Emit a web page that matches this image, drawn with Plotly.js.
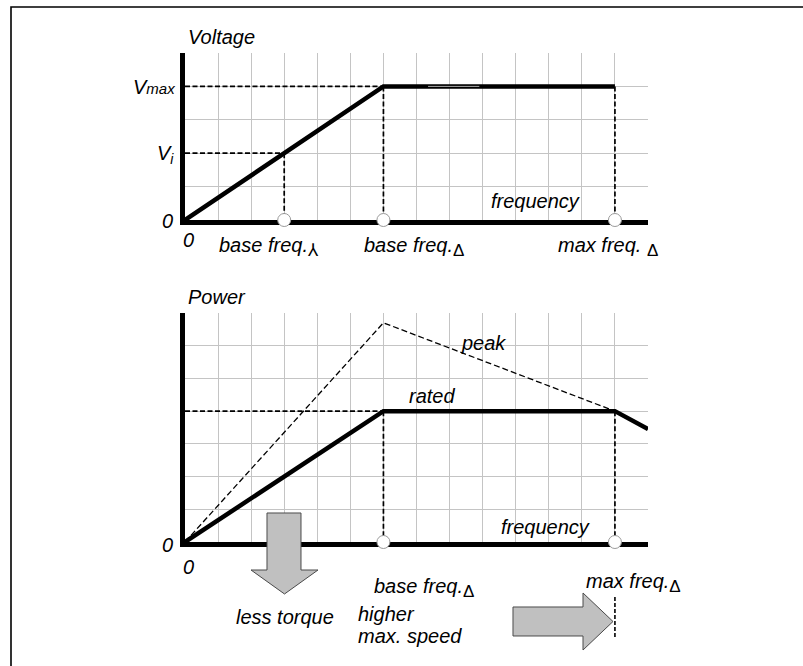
<!DOCTYPE html>
<html><head><meta charset="utf-8">
<script src="https://cdn.plot.ly/plotly-3.0.1.min.js"></script>
<style>html,body{margin:0;padding:0;background:#fff;}#chart{width:803px;height:666px;}</style>
</head><body><div id="chart"></div>
<script>
// ---------- data ----------
const xMax = 14;                 // frequency grid extent (grid units)
const vMaxTop = 5;               // voltage grid extent
const pMaxTop = 7;               // power grid extent
const baseFreqStar = 3;          // base freq (star)
const baseFreqDelta = 6;         // base freq (delta)
const maxFreqDelta = 13;         // max freq (delta)
const vi = 2;                    // V_i level
const vmax = 4;                  // V_max level
const voltX = [0, 6, 13];
const voltY = [0, 4, 4];
const voltHighlightX = [7.35, 8.9];
const ratedX = [0, 6, 13, 14];
const ratedY = [0, 4, 4, 3.45];
const peakX = [0, 6, 13];
const peakY = [0, 6.7, 4];
const ratedLevel = 4;
const topMarks = [baseFreqStar, baseFreqDelta, maxFreqDelta];
const botMarks = [baseFreqDelta, maxFreqDelta];

// ---------- helpers ----------
const W = 803, H = 666;
const px = x => x / W;
const py = y => 1 - y / H;

function segs(list){ // list of [x0,y0,x1,y1]
  const x=[],y=[];
  list.forEach(s=>{x.push(s[0],s[2],null);y.push(s[1],s[3],null);});
  return {x,y};
}
const guideTop = segs([
  [0, vmax, baseFreqDelta, vmax],
  [0, vi, baseFreqStar, vi],
  [baseFreqStar, vi, baseFreqStar, 0],
  [baseFreqDelta, vmax, baseFreqDelta, 0],
  [maxFreqDelta, vmax, maxFreqDelta, 0]
]);
const guideBot = segs([
  [0, ratedLevel, baseFreqDelta, ratedLevel],
  [baseFreqDelta, ratedLevel, baseFreqDelta, 0],
  [maxFreqDelta, ratedLevel, maxFreqDelta, 0]
]);

const dashGuide = {color:'#000', width:1.7, dash:'5px,2.5px'};
const markStyle = {size:13, color:'#fff', line:{color:'#9a9a9a', width:1}};

const traces = [
  {x:guideTop.x, y:guideTop.y, xaxis:'x', yaxis:'y', mode:'lines', line:dashGuide, hoverinfo:'skip'},
  {x:voltX, y:voltY, xaxis:'x', yaxis:'y', mode:'lines', line:{color:'#000', width:4.5}},
  {x:voltHighlightX, y:[vmax, vmax], xaxis:'x', yaxis:'y', mode:'lines', line:{color:'#aaa', width:1}},
  {x:topMarks, y:topMarks.map(()=>0), xaxis:'x', yaxis:'y', mode:'markers', marker:markStyle, cliponaxis:false},
  {x:guideBot.x, y:guideBot.y, xaxis:'x2', yaxis:'y2', mode:'lines', line:dashGuide, hoverinfo:'skip'},
  {x:peakX, y:peakY, xaxis:'x2', yaxis:'y2', mode:'lines', line:{color:'#000', width:1.3, dash:'6px,3px'}},
  {x:ratedX, y:ratedY, xaxis:'x2', yaxis:'y2', mode:'lines', line:{color:'#000', width:4.5}},
  {x:botMarks, y:botMarks.map(()=>0), xaxis:'x2', yaxis:'y2', mode:'markers', marker:markStyle, cliponaxis:false}
];

const axBase = {
  showgrid:true, gridcolor:'#c4c4c4', gridwidth:1, dtick:1, tick0:0,
  showticklabels:false, ticks:'', zeroline:false, layer:'below traces',
  showline:true, linecolor:'#000', linewidth:5, fixedrange:true
};
const xDom = [px(185), px(648)];

const F = {family:'"Liberation Sans", Arial, sans-serif', size:20, color:'#000', style:'italic'};
function A(text, x, y, xanchor, extra){
  return Object.assign({text, x:px(x), y:py(y), xref:'paper', yref:'paper',
    xanchor:xanchor||'left', yanchor:'middle', showarrow:false, font:F, align:'left'}, extra||{});
}
const D = '<span style="font-style:normal;font-size:17px">Δ</span>';
const S = '<span style="font-style:normal;font-size:18px">⅄</span>';
const annotations = [
  A('Voltage', 186, 37),
  A('V<span style="font-size:15px">max</span>', 177, 87, 'right'),
  A('V<sub>i</sub>', 176, 154, 'right'),
  A('0', 175, 221, 'right'),
  A('0', 181, 240),
  A('base freq.<sub>' + S + '</sub>', 217, 247),
  A('base freq.<sub>' + D + '</sub>', 362, 247),
  A('max freq. <sub>' + D + '</sub>', 556, 247),
  A('frequency', 489, 201),
  A('Power', 186, 297),
  A('peak', 459, 343),
  A('rated', 407, 396),
  A('frequency', 499, 527),
  A('0', 175, 545, 'right'),
  A('0', 181, 567),
  A('base freq.<sub>' + D + '</sub>', 372, 588),
  A('max freq.<sub>' + D + '</sub>', 584, 583),
  A('less torque', 234, 617),
  A('higher', 356, 614),
  A('max. speed', 356, 636)
];

const arrowStyle = {fillcolor:'#c0c0c0', line:{color:'#4a4a4a', width:1}};
function pathPx(pts){
  return 'M ' + pts.map(p=>px(p[0]).toFixed(5)+','+py(p[1]).toFixed(5)).join(' L ') + ' Z';
}
const shapes = [
  // frame
  {type:'path', xref:'paper', yref:'paper', path:'M '+px(11)+','+py(666)+' L '+px(11)+','+py(7)+' L '+px(803)+','+py(7),
   line:{color:'#000', width:1.6}},
  // down arrow (less torque)
  Object.assign({type:'path', xref:'paper', yref:'paper', layer:'above',
    path:pathPx([[267,513],[301,513],[301,570],[318,570],[284.5,594],[251,570],[267,570]])}, arrowStyle),
  // right arrow (higher max speed)
  Object.assign({type:'path', xref:'paper', yref:'paper', layer:'above',
    path:pathPx([[513,607],[583,607],[583,593],[613,621.5],[583,650],[583,636],[513,636]])}, arrowStyle),
  // new max frequency marker
  {type:'line', xref:'x2', yref:'paper', x0:maxFreqDelta, x1:maxFreqDelta, y0:py(597), y1:py(637),
   line:{color:'#000', width:1.6, dash:'4px,2px'}}
];

const layout = {
  width:W, height:H, margin:{l:0,r:0,t:0,b:0},
  paper_bgcolor:'#fff', plot_bgcolor:'#fff', showlegend:false,
  xaxis: Object.assign({}, axBase, {domain:xDom, range:[0,xMax], anchor:'y'}),
  yaxis: Object.assign({}, axBase, {domain:[py(220), py(53)], range:[0,vMaxTop], anchor:'x'}),
  xaxis2: Object.assign({}, axBase, {domain:xDom, range:[0,xMax], anchor:'y2'}),
  yaxis2: Object.assign({}, axBase, {domain:[py(542), py(313)], range:[0,pMaxTop], anchor:'x2'}),
  annotations, shapes
};
Plotly.newPlot('chart', traces, layout, {displayModeBar:false, staticPlot:true});
</script></body></html>
